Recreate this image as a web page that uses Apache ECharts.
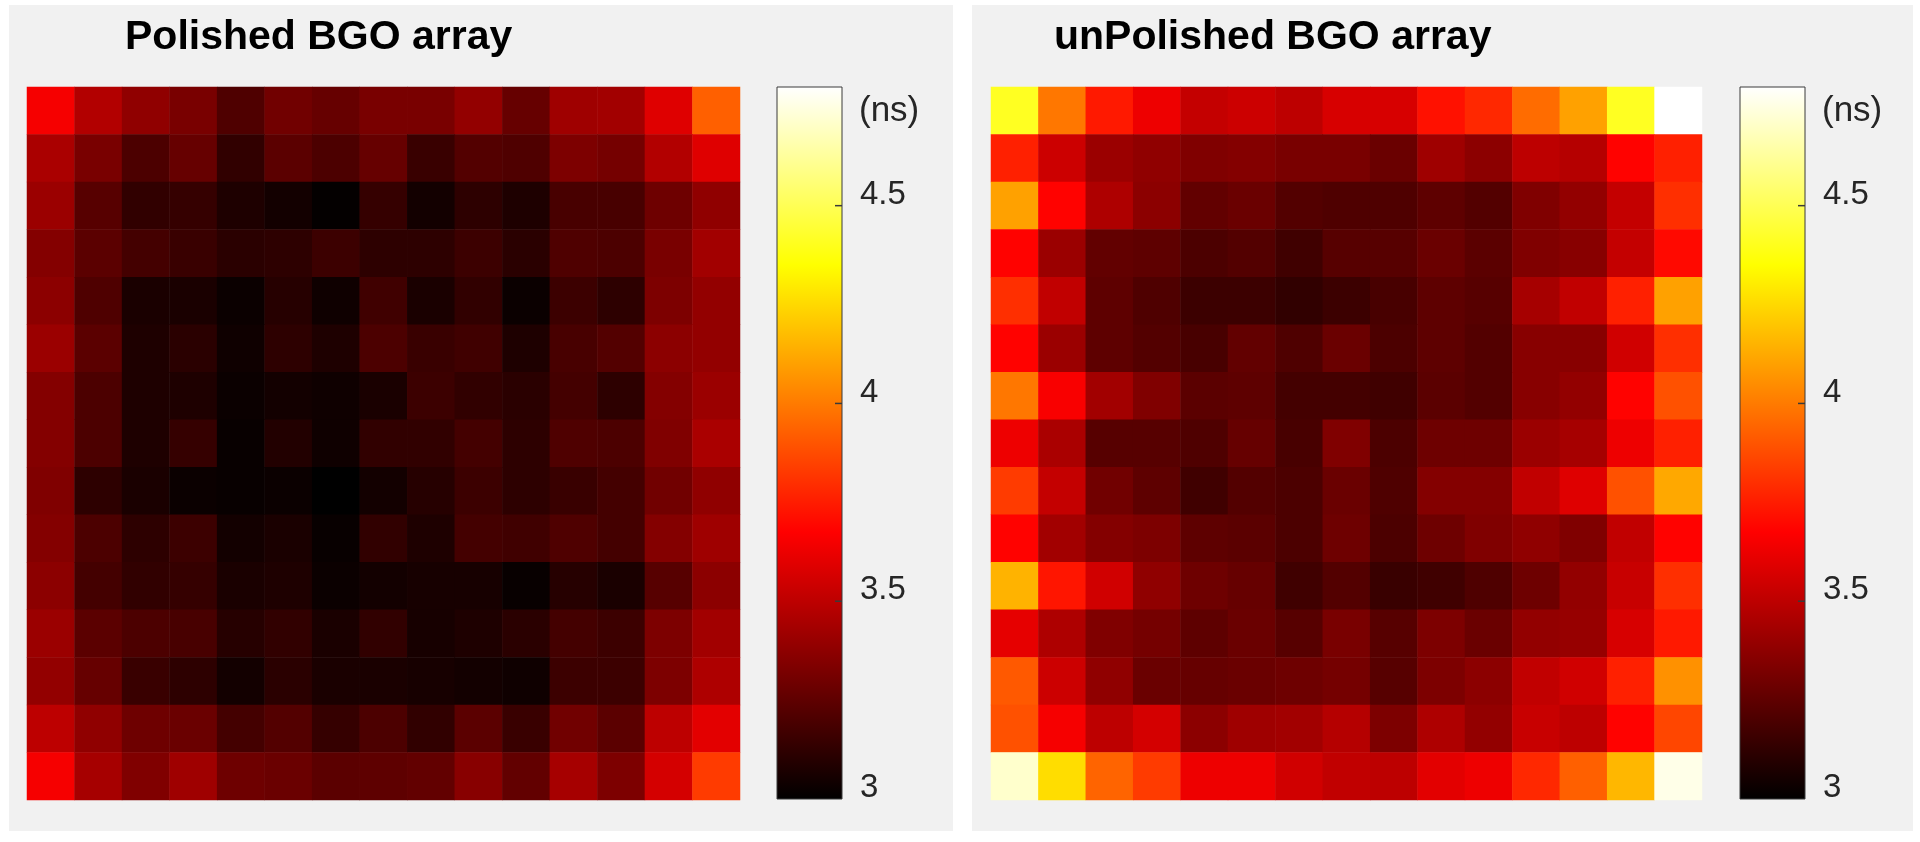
<!DOCTYPE html>
<html><head><meta charset="utf-8">
<script src="https://cdn.jsdelivr.net/npm/echarts@6/dist/echarts.min.js"></script>
<style>html,body{margin:0;padding:0;background:#ffffff;}#c{width:1920px;height:842px;}</style>
</head><body><div id="c"></div>
<script>
const rowLabels = ['1','2','3','4','5','6','7','8','9','10','11','12','13','14','15'];
const colLabels = ['1','2','3','4','5','6','7','8','9','10','11','12','13','14','15'];
const titles = ['Polished BGO array', 'unPolished BGO array'];
const unitLabel = '(ns)';
const cbMin = 3, cbMax = 4.8;
const cbTicks = [3, 3.5, 4, 4.5];
const hotColors = ['#000000','#550000','#aa0000','#ff0000','#ff5500','#ffaa00','#ffff00','#ffff80','#ffffff'];

const polished = [
 [3.65,3.47,3.38,3.32,3.21,3.30,3.27,3.32,3.32,3.39,3.27,3.42,3.43,3.59,3.93],
 [3.45,3.32,3.20,3.27,3.13,3.24,3.20,3.27,3.15,3.22,3.21,3.33,3.31,3.47,3.59],
 [3.41,3.23,3.13,3.14,3.08,3.05,3.01,3.14,3.05,3.12,3.08,3.19,3.19,3.29,3.38],
 [3.35,3.24,3.18,3.15,3.11,3.12,3.16,3.12,3.12,3.16,3.11,3.21,3.20,3.32,3.43],
 [3.37,3.21,3.07,3.07,3.03,3.10,3.04,3.17,3.07,3.13,3.03,3.16,3.12,3.33,3.39],
 [3.41,3.24,3.08,3.11,3.04,3.12,3.08,3.20,3.15,3.17,3.08,3.19,3.22,3.37,3.39],
 [3.35,3.20,3.08,3.08,3.03,3.05,3.04,3.07,3.16,3.13,3.11,3.18,3.12,3.35,3.41],
 [3.35,3.20,3.08,3.14,3.02,3.09,3.04,3.13,3.13,3.18,3.12,3.21,3.20,3.34,3.45],
 [3.34,3.12,3.07,3.03,3.02,3.03,3.00,3.05,3.10,3.16,3.12,3.15,3.18,3.30,3.38],
 [3.35,3.20,3.12,3.16,3.05,3.07,3.02,3.13,3.08,3.18,3.17,3.21,3.18,3.35,3.42],
 [3.37,3.18,3.13,3.14,3.07,3.08,3.03,3.05,3.06,3.06,3.02,3.10,3.07,3.23,3.37],
 [3.41,3.24,3.20,3.19,3.10,3.13,3.07,3.13,3.06,3.08,3.11,3.18,3.16,3.33,3.43],
 [3.39,3.27,3.15,3.12,3.05,3.11,3.07,3.07,3.06,3.05,3.04,3.16,3.16,3.33,3.46],
 [3.50,3.38,3.29,3.28,3.18,3.22,3.14,3.20,3.13,3.24,3.15,3.30,3.24,3.50,3.60],
 [3.65,3.44,3.34,3.42,3.29,3.28,3.24,3.25,3.26,3.36,3.26,3.44,3.33,3.56,3.83]
];

const unpolished = [
 [4.41,3.99,3.74,3.63,3.52,3.54,3.50,3.57,3.57,3.72,3.78,3.96,4.10,4.41,4.80],
 [3.76,3.54,3.41,3.38,3.34,3.35,3.32,3.32,3.28,3.42,3.37,3.50,3.48,3.68,3.76],
 [4.10,3.68,3.46,3.37,3.26,3.28,3.22,3.21,3.21,3.25,3.22,3.34,3.39,3.52,3.80],
 [3.68,3.41,3.26,3.25,3.20,3.22,3.17,3.23,3.23,3.28,3.24,3.34,3.36,3.52,3.70],
 [3.80,3.51,3.25,3.21,3.16,3.16,3.13,3.16,3.19,3.25,3.23,3.44,3.51,3.76,4.10],
 [3.68,3.41,3.25,3.22,3.19,3.26,3.21,3.28,3.20,3.25,3.22,3.36,3.36,3.55,3.80],
 [3.99,3.66,3.43,3.34,3.24,3.25,3.18,3.18,3.17,3.24,3.22,3.36,3.39,3.68,3.89],
 [3.63,3.45,3.23,3.23,3.21,3.27,3.19,3.34,3.20,3.29,3.29,3.41,3.44,3.63,3.76],
 [3.83,3.52,3.30,3.25,3.17,3.22,3.20,3.28,3.21,3.35,3.35,3.51,3.59,3.89,4.12],
 [3.68,3.43,3.35,3.33,3.25,3.24,3.20,3.29,3.20,3.29,3.34,3.38,3.34,3.51,3.68],
 [4.15,3.73,3.55,3.38,3.29,3.27,3.17,3.22,3.15,3.17,3.21,3.29,3.39,3.53,3.80],
 [3.61,3.46,3.34,3.31,3.25,3.28,3.23,3.32,3.23,3.33,3.28,3.39,3.40,3.57,3.74],
 [3.91,3.54,3.38,3.28,3.27,3.28,3.29,3.31,3.23,3.33,3.37,3.51,3.55,3.76,4.06],
 [3.89,3.65,3.50,3.56,3.37,3.42,3.43,3.48,3.33,3.46,3.39,3.53,3.50,3.68,3.86],
 [4.71,4.26,3.94,3.83,3.63,3.63,3.55,3.51,3.50,3.60,3.63,3.78,3.93,4.16,4.76]
];

const FONT = "'Liberation Sans', Arial, Helvetica, sans-serif";

function toCells(m) {
  const out = [];
  m.forEach((row, r) => row.forEach((v, c) => out.push([c, r, v])));
  return out;
}

function renderBar(params, api) {
  const p0 = api.coord([0, cbMax]);
  const p1 = api.coord([1, cbMin]);
  const stops = hotColors.map((c, i) => ({ offset: i / (hotColors.length - 1), color: c }));
  const children = [{
    type: 'rect',
    shape: { x: p0[0], y: p0[1], width: p1[0] - p0[0], height: p1[1] - p0[1] },
    style: { fill: new echarts.graphic.LinearGradient(0, 1, 0, 0, stops), stroke: '#3a3a3a', lineWidth: 1 }
  }];
  cbTicks.forEach(t => {
    const p = api.coord([1, t]);
    if (t > cbMin) {
      children.push({ type: 'line', shape: { x1: p[0] - 7, y1: p[1], x2: p[0], y2: p[1] },
        style: { stroke: '#3a3a3a', lineWidth: 1.5 } });
    }
    children.push({ type: 'text', x: p[0] + 18, y: p[1] - 11,
      style: { text: String(t), fill: '#262626', fontSize: 33, fontFamily: FONT, align: 'left', verticalAlign: 'middle' } });
  });
  return { type: 'group', children };
}

function heatX(g) { return { gridIndex: g, type: 'category', data: colLabels, show: false }; }
function heatY(g) { return { gridIndex: g, type: 'category', data: rowLabels, inverse: true, show: false }; }
function cbX(g) { return { gridIndex: g, type: 'value', min: 0, max: 1, show: false }; }
function cbY(g) { return { gridIndex: g, type: 'value', min: cbMin, max: cbMax, interval: 0.5, show: false }; }

const chart = echarts.init(document.getElementById('c'), null, { renderer: 'canvas' });
chart.setOption({
  animation: false,
  backgroundColor: '#ffffff',
  graphic: {
    elements: [
      { type: 'rect', left: 9, top: 5, z: -100, shape: { width: 944, height: 826 }, style: { fill: '#f1f1f1' } },
      { type: 'rect', left: 972, top: 5, z: -100, shape: { width: 941, height: 826 }, style: { fill: '#f1f1f1' } }
    ]
  },
  title: [
    { text: titles[0], left: 125, top: 17, padding: 0, textStyle: { fontSize: 41, fontWeight: 'bold', color: '#000', fontFamily: FONT } },
    { text: titles[1], left: 1054, top: 17, padding: 0, textStyle: { fontSize: 41, fontWeight: 'bold', color: '#000', fontFamily: FONT } },
    { text: unitLabel, left: 859, top: 94, padding: 0, textStyle: { fontSize: 35, fontWeight: 'normal', color: '#262626', fontFamily: FONT } },
    { text: unitLabel, left: 1822, top: 94, padding: 0, textStyle: { fontSize: 35, fontWeight: 'normal', color: '#262626', fontFamily: FONT } }
  ],
  grid: [
    { left: 27, top: 87, width: 713, height: 713 },
    { left: 777, top: 87, width: 65, height: 712 },
    { left: 991, top: 87, width: 711, height: 713 },
    { left: 1740, top: 87, width: 65, height: 712 }
  ],
  xAxis: [heatX(0), cbX(1), heatX(2), cbX(3)],
  yAxis: [heatY(0), cbY(1), heatY(2), cbY(3)],
  visualMap: {
    type: 'continuous', min: cbMin, max: cbMax, show: false, seriesIndex: [0, 1],
    inRange: { color: hotColors }
  },
  series: [
    { type: 'heatmap', xAxisIndex: 0, yAxisIndex: 0, data: toCells(polished), emphasis: { disabled: true }, progressive: 0 },
    { type: 'heatmap', xAxisIndex: 2, yAxisIndex: 2, data: toCells(unpolished), emphasis: { disabled: true }, progressive: 0 },
    { type: 'custom', xAxisIndex: 1, yAxisIndex: 1, data: [[0, cbMin]], renderItem: renderBar, clip: false, silent: true },
    { type: 'custom', xAxisIndex: 3, yAxisIndex: 3, data: [[0, cbMin]], renderItem: renderBar, clip: false, silent: true }
  ]
});
</script>
</body></html>
